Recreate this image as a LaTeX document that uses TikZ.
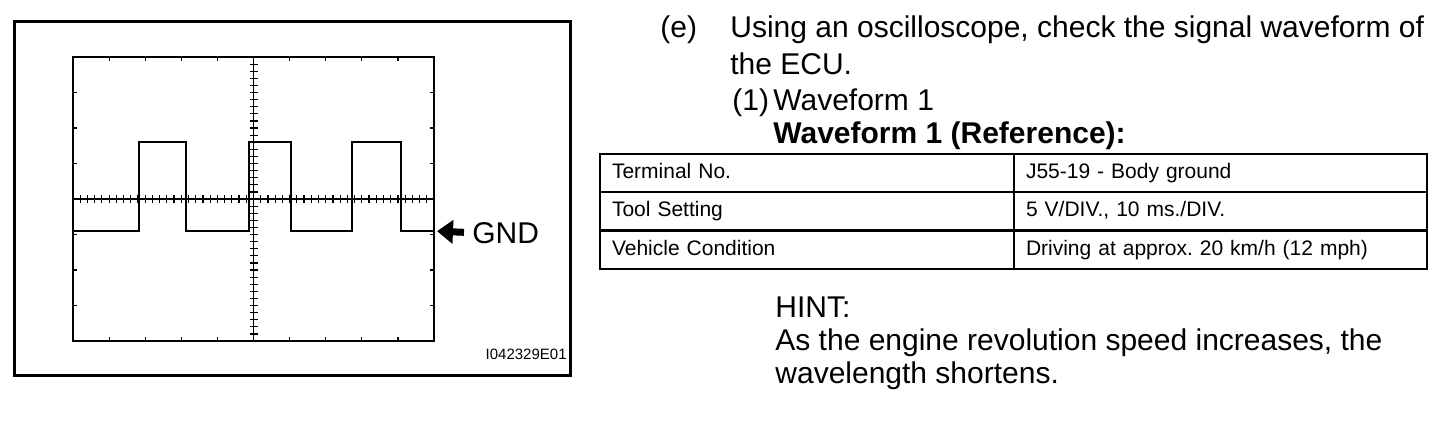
\documentclass[tikz,border=0pt]{standalone}
\usepackage{fontspec}
\setmainfont{Liberation Sans}
\usetikzlibrary{arrows.meta}
\tikzset{
	txt/.style={anchor=base west,inner sep=0pt,font=\fontsize{15pt}{17pt}\selectfont},
	cell/.style={draw=black,line width=1pt,anchor=north west,minimum height=19pt,
		inner xsep=6pt,inner ysep=0pt,text height=7.6pt,text depth=2.2pt,align=left,
		font=\fontsize{10.5pt}{12pt}\selectfont},
	tick/.style={line width=0.6pt},
	trace/.style={line width=1.4pt},
}
\begin{document}
\begin{tikzpicture}[x=0.5pt,y=-0.5pt]
	\useasboundingbox (0,0) rectangle (1456,430);
	% scope screen
	\draw[line width=1.5pt] (14,21) rectangle (570,375);
	\draw[tick] (73,57) rectangle (434,341);
	\draw[tick] (73,199) -- (434,199);
	\draw[tick] (253.5,57) -- (253.5,341);
	\foreach \i in {1,...,9}
		\draw[tick] (73+\i*36.1,57) -- ++(0,4) (73+\i*36.1,341) -- ++(0,-4);
	\foreach \i in {1,...,7}
		\draw[tick] (73,57+\i*35.5) -- ++(4,0) (434,57+\i*35.5) -- ++(-4,0);
	\foreach \i in {1,...,49}
		\draw[tick] (73+\i*7.22,195) -- ++(0,8);
	\foreach \i in {1,...,39}
		\draw[tick] (249.5,57+\i*7.1) -- ++(8,0);
	% waveform
	\draw[trace] (73,231) -| (139,142) -| (186,231) -| (249,142) -| (291,231)
		-| (352,142) -| (401,231) -- (434,231) coordinate (gnd);
	\node[txt] (gndlabel) at (472,243) {GND};
	\draw[line width=3.5pt,-{Triangle[length=8pt,width=11.5pt]},shorten <=4pt,shorten >=1.5pt]
		(gndlabel.west) -- (gnd);
	\node[anchor=base east,inner sep=0pt,font=\fontsize{7.5pt}{9pt}\selectfont] (figno) at (567,359) {I042329E01};
	% text
	\node[txt] (step) at (660,37) {(e)};
	\node[txt] (line1) at (730,37) {Using an oscilloscope, check the signal waveform of};
	\node[txt] (line2) at (730,74) {the ECU.};
	\node[txt] (sub) at (732,110) {(1)};
	\node[txt] (subtitle) at (773,110) {Waveform 1};
	\node[txt,font=\fontsize{15pt}{17pt}\selectfont\bfseries] (title) at (773,143) {Waveform 1 (Reference):};
	% table
	\node[cell,minimum width=207pt,text width=195pt] (r1a) at (599,153) {Terminal No.};
	\node[cell,minimum width=206.5pt,text width=194.5pt] (r1b) at (1013,153) {J55-19 - Body ground};
	\node[cell,minimum width=207pt,text width=195pt] (r2a) at (599,191) {Tool Setting};
	\node[cell,minimum width=206.5pt,text width=194.5pt] (r2b) at (1013,191) {5 V/DIV., 10 ms./DIV.};
	\node[cell,minimum width=207pt,text width=195pt] (r3a) at (599,230) {Vehicle Condition};
	\node[cell,minimum width=206.5pt,text width=194.5pt] (r3b) at (1013,230) {Driving at approx.\ 20 km/h (12 mph)};
	% hint
	\node[txt] (hint) at (775,317) {HINT:};
	\node[txt] (hint1) at (775,350) {As the engine revolution speed increases, the};
	\node[txt] (hint2) at (775,383) {wavelength shortens.};
\end{tikzpicture}
\end{document}
